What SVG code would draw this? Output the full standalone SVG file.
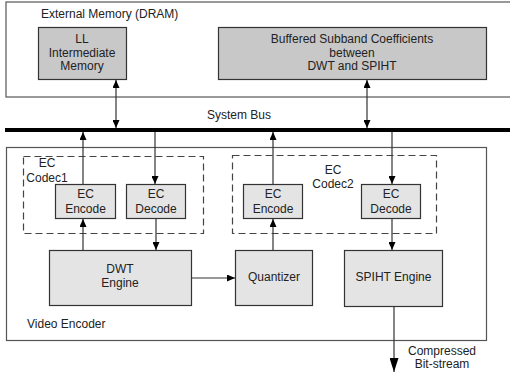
<svg xmlns="http://www.w3.org/2000/svg" width="510" height="372" viewBox="0 0 510 372">
<style>
text{font-family:"Liberation Sans",Arial,sans-serif;font-size:12px;fill:#222}
.c{text-anchor:middle}
.mem{fill:#c8c8c8;stroke:#333;stroke-width:1.2}
.blk{fill:#e4e4e4;stroke:#333;stroke-width:1.2}
.frame{fill:#fff;stroke:#555;stroke-width:1.2}
.dash{fill:none;stroke:#444;stroke-width:1.2;stroke-dasharray:7,4}
.ln{stroke:#333;stroke-width:1.2;fill:none}
</style>
<defs>
<marker id="ah" markerUnits="userSpaceOnUse" markerWidth="8" markerHeight="7" refX="8" refY="3.5" orient="auto-start-reverse"><path d="M0,0 L8,3.5 L0,7 z" fill="#000"/></marker>
<marker id="big" markerUnits="userSpaceOnUse" markerWidth="14" markerHeight="9" refX="14" refY="4.5" orient="auto"><path d="M0,0 L14,4.5 L0,9 z" fill="#000"/></marker>
</defs>
<rect width="510" height="372" fill="#fff"/>
<g id="external-memory">
<rect class="frame" x="6" y="2" width="510" height="95"/>
<text x="41" y="18">External Memory (DRAM)</text>
</g>
<g id="ll-memory">
<rect class="mem" x="38.5" y="27.5" width="88" height="52"/>
<text class="c" x="82" y="43">LL</text>
<text class="c" x="82" y="57">Intermediate</text>
<text class="c" x="82" y="70">Memory</text>
</g>
<g id="buffered">
<rect class="mem" x="218.5" y="27.5" width="268" height="52"/>
<text class="c" x="352" y="43">Buffered Subband Coefficients</text>
<text class="c" x="352" y="57">between</text>
<text class="c" x="352" y="70">DWT and SPIHT</text>
</g>
<g id="system-bus">
<rect x="5" y="128" width="505" height="4" fill="#000"/>
<text x="207" y="119">System Bus</text>
</g>
<g id="video-encoder">
<rect class="frame" x="6.5" y="147.5" width="480" height="193"/>
<text x="27" y="328">Video Encoder</text>
</g>
<g id="ec-codec1">
<rect class="dash" x="23.5" y="156.5" width="180" height="77"/>
<text class="c" x="47" y="167">EC</text>
<text class="c" x="47" y="182">Codec1</text>
</g>
<g id="ec-codec2">
<rect class="dash" x="232.5" y="155.5" width="204" height="78"/>
<text class="c" x="333" y="174">EC</text>
<text class="c" x="333" y="188">Codec2</text>
</g>
<g id="ec-encode1">
<rect class="blk" x="55.5" y="184.5" width="60" height="34"/>
<text class="c" x="85.5" y="198">EC</text>
<text class="c" x="85.5" y="213">Encode</text>
</g>
<g id="ec-decode1">
<rect class="blk" x="126.5" y="184.5" width="59" height="34"/>
<text class="c" x="156" y="198">EC</text>
<text class="c" x="156" y="213">Decode</text>
</g>
<g id="ec-encode2">
<rect class="blk" x="243.5" y="184.5" width="59" height="34"/>
<text class="c" x="273" y="198">EC</text>
<text class="c" x="273" y="213">Encode</text>
</g>
<g id="ec-decode2">
<rect class="blk" x="361.5" y="184.5" width="59" height="34"/>
<text class="c" x="391" y="198">EC</text>
<text class="c" x="391" y="213">Decode</text>
</g>
<g id="dwt">
<rect class="blk" x="49.5" y="250.5" width="142" height="55"/>
<text class="c" x="120" y="273">DWT</text>
<text class="c" x="120" y="287">Engine</text>
</g>
<g id="quantizer">
<rect class="blk" x="235.5" y="250.5" width="77" height="55"/>
<text class="c" x="274" y="281">Quantizer</text>
</g>
<g id="spiht">
<rect class="blk" x="344.5" y="250.5" width="98" height="56"/>
<text class="c" x="393.5" y="281">SPIHT Engine</text>
</g>
<g id="output-label">
<text class="c" x="442" y="355">Compressed</text>
<text class="c" x="442" y="368">Bit-stream</text>
</g>
<g id="connectors">
<line class="ln" x1="116" y1="80" x2="116" y2="128" marker-start="url(#ah)" marker-end="url(#ah)"/>
<line class="ln" x1="367" y1="80" x2="367" y2="128" marker-start="url(#ah)" marker-end="url(#ah)"/>
<line class="ln" x1="83" y1="184" x2="83" y2="132" marker-end="url(#ah)"/>
<line class="ln" x1="155" y1="132" x2="155" y2="184" marker-end="url(#ah)"/>
<line class="ln" x1="83" y1="250" x2="83" y2="219" marker-end="url(#ah)"/>
<line class="ln" x1="156" y1="219" x2="156" y2="250" marker-end="url(#ah)"/>
<line class="ln" x1="273" y1="250" x2="273" y2="219" marker-end="url(#ah)"/>
<line class="ln" x1="273" y1="184" x2="273" y2="132" marker-end="url(#ah)"/>
<line class="ln" x1="392" y1="132" x2="392" y2="184" marker-end="url(#ah)"/>
<line class="ln" x1="392" y1="219" x2="392" y2="250" marker-end="url(#ah)"/>
<line class="ln" x1="192" y1="278" x2="235" y2="278" marker-end="url(#ah)"/>
<line class="ln" x1="394" y1="307" x2="394" y2="372" marker-end="url(#big)"/>
</g>
</svg>
